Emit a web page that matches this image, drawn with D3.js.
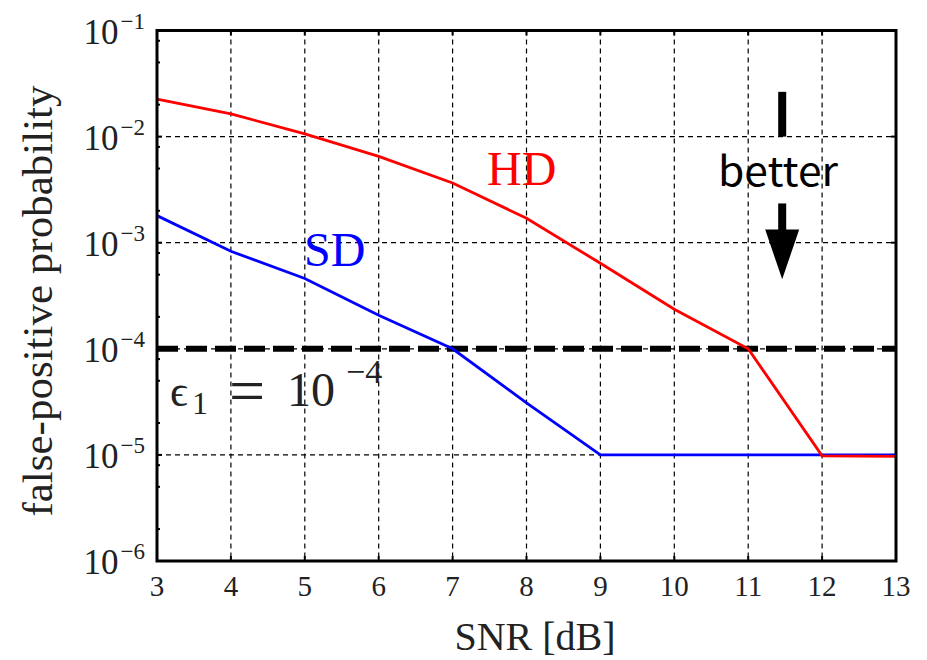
<!DOCTYPE html>
<html lang="en">

<head>
    <meta charset="utf-8">
    <title>False-positive probability vs SNR</title>
    <style>
        body {
            margin: 0;
            background: #fff;
        }

        text {
            font-family: "Liberation Serif", "Times New Roman", serif;
        }
    </style>
</head>

<body>
    <svg id="chart" width="927" height="660"></svg>

    <script src="https://d3js.org/d3.v7.min.js"></script>
    <script>
        // data
        const snr = [3, 4, 5, 6, 7, 8, 9, 10, 11, 12, 13]
        const hd = [2.25e-2, 1.64e-2, 1.06e-2, 6.5e-3, 3.65e-3, 1.7e-3, 6.4e-4, 2.36e-4, 1.0e-4, 9.8e-6, 9.7e-6]
        const sd = [1.8e-3, 8.3e-4, 4.6e-4, 2.07e-4, 1.0e-4, 3.1e-5, 1.0e-5, 1.0e-5, 1.0e-5, 1.0e-5, 1.0e-5]
        const threshold = 1e-4
        const xTicks = [3, 4, 5, 6, 7, 8, 9, 10, 11, 12, 13]
        const yExponents = [-1, -2, -3, -4, -5, -6]

        const svg = d3.select("#chart")
        const pLeft = 157, pRight = 896, pTop = 30.5, pBottom = 561

        const x = d3.scaleLinear().domain([3, 13]).range([pLeft, pRight])
        const y = d3.scaleLog().domain([1e-6, 1e-1]).range([pBottom, pTop])

        // grid
        const grid = svg.append("g")
            .attr("stroke", "#000")
            .attr("stroke-width", 1.2)
            .attr("stroke-dasharray", "5,4")
        xTicks.slice(1, -1).forEach(t => {
            grid.append("line")
                .attr("x1", x(t)).attr("x2", x(t))
                .attr("y1", pTop).attr("y2", pBottom)
        })
        yExponents.slice(1, -1).forEach(e => {
            grid.append("line")
                .attr("x1", pLeft).attr("x2", pRight)
                .attr("y1", y(Math.pow(10, e))).attr("y2", y(Math.pow(10, e)))
        })

        // small ticks inside the box
        const ticks = svg.append("g").attr("stroke", "#000").attr("stroke-width", 2)
        xTicks.slice(1, -1).forEach(t => {
            ticks.append("line").attr("x1", x(t)).attr("x2", x(t)).attr("y1", pBottom).attr("y2", pBottom - 5)
            ticks.append("line").attr("x1", x(t)).attr("x2", x(t)).attr("y1", pTop).attr("y2", pTop + 5)
        })
        yExponents.forEach(e => {
            const v = Math.pow(10, e)
            ticks.append("line").attr("x1", pLeft).attr("x2", pLeft + 5).attr("y1", y(v)).attr("y2", y(v))
            ticks.append("line").attr("x1", pRight).attr("x2", pRight - 5).attr("y1", y(v)).attr("y2", y(v))
            if (e < -1) {
                [2, 5, 8].forEach(k => {
                    const m = v * k
                    ticks.append("line").attr("x1", pLeft).attr("x2", pLeft + 3).attr("y1", y(m)).attr("y2", y(m))
                })
            }
        })

        // threshold line
        svg.append("line")
            .attr("x1", pLeft).attr("x2", pRight)
            .attr("y1", y(threshold)).attr("y2", y(threshold))
            .attr("stroke", "#000")
            .attr("stroke-width", 6)
            .attr("stroke-dasharray", "21,8")

        // curves
        const line = d3.line()
            .x((d, i) => x(snr[i]))
            .y(d => y(d))

        svg.append("path")
            .datum(sd)
            .attr("d", line)
            .attr("fill", "none")
            .attr("stroke", "#0000ff")
            .attr("stroke-width", 2.8)

        svg.append("path")
            .datum(hd)
            .attr("d", line)
            .attr("fill", "none")
            .attr("stroke", "#ff0000")
            .attr("stroke-width", 2.8)

        // box
        svg.append("rect")
            .attr("x", pLeft).attr("y", pTop)
            .attr("width", pRight - pLeft).attr("height", pBottom - pTop)
            .attr("fill", "none")
            .attr("stroke", "#000")
            .attr("stroke-width", 3)

        // x tick labels
        svg.append("g").selectAll("text")
            .data(xTicks)
            .join("text")
            .attr("x", d => x(d))
            .attr("y", 596)
            .attr("text-anchor", "middle")
            .attr("font-size", 29)
            .attr("fill", "#222")
            .text(d => d)

        // y tick labels
        const yl = svg.append("g").selectAll("text")
            .data(yExponents)
            .join("text")
            .attr("x", 145)
            .attr("y", d => y(Math.pow(10, d)) + 13)
            .attr("text-anchor", "end")
            .attr("fill", "#222")
        yl.append("tspan").attr("font-size", 35).text("10")
        yl.append("tspan").attr("font-size", 23).attr("dy", -15).attr("dx", 2).text(d => "\u2212" + (-d))

        // axis titles
        svg.append("text")
            .attr("x", 535).attr("y", 650)
            .attr("text-anchor", "middle")
            .attr("font-size", 40)
            .attr("fill", "#222")
            .text("SNR [dB]")

        svg.append("text")
            .attr("transform", "translate(52,301) rotate(-90)")
            .attr("text-anchor", "middle")
            .attr("font-size", 43)
            .attr("fill", "#222")
            .text("false-positive probability")

        // curve labels
        svg.append("text")
            .attr("x", 487).attr("y", 185)
            .attr("font-size", 48)
            .attr("fill", "#ff0000")
            .text("HD")

        svg.append("text")
            .attr("x", 304).attr("y", 266)
            .attr("font-size", 48)
            .attr("fill", "#0000ff")
            .text("SD")

        // threshold label
        const lab = svg.append("g").attr("fill", "#222")
        lab.append("text").attr("x", 170).attr("y", 406).attr("font-size", 44).text("\u03f5")
        lab.append("text").attr("x", 192).attr("y", 414).attr("font-size", 32).text("1")
        lab.append("text").attr("x", 229).attr("y", 412).attr("font-size", 64).text("=")
        lab.append("text").attr("x", 287).attr("y", 406).attr("font-size", 48).text("10")
        lab.append("text").attr("x", 346).attr("y", 383).attr("font-size", 34).text("\u22124")

        // "better" annotation
        const ax = 11.46
        svg.append("rect")
            .attr("x", x(ax) - 4).attr("y", y(Math.pow(10, -1.578)))
            .attr("width", 8).attr("height", y(1e-2) - y(Math.pow(10, -1.578)))
            .attr("fill", "#000")
        svg.append("rect")
            .attr("x", x(ax) - 4).attr("y", y(Math.pow(10, -2.63)))
            .attr("width", 8).attr("height", y(Math.pow(10, -2.875)) - y(Math.pow(10, -2.63)) + 1)
            .attr("fill", "#000")
        svg.append("path")
            .attr("d", `M${x(ax) - 17},${y(Math.pow(10, -2.875))}L${x(ax) + 17},${y(Math.pow(10, -2.875))}L${x(ax)},${y(Math.pow(10, -3.345))}Z`)
            .attr("fill", "#000")
        svg.append("text")
            .attr("x", 778).attr("y", 186)
            .attr("text-anchor", "middle")
            .attr("font-size", 40)
            .attr("textLength", 120)
            .attr("lengthAdjust", "spacingAndGlyphs")
            .style("font-family", "'Noto Sans CJK JP', 'Noto Sans', sans-serif")
            .style("font-weight", 400)
            .attr("fill", "#000")
            .text("better")
    </script>
</body>

</html>
